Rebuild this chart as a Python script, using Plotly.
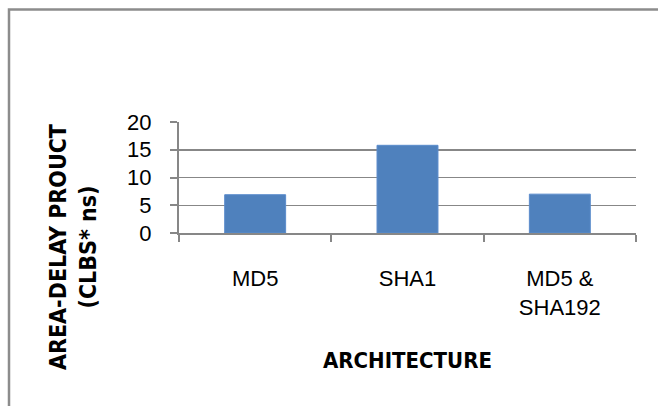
import plotly.graph_objects as go

categories = ["MD5", "SHA1", "MD5 &<br>SHA192"]
values = [6.9, 15.8, 7.0]
y_ticks = [0, 5, 10, 15, 20]

GRAY = "#878787"
BAR = "#4f81bd"
W, H = 658, 406
L, R, T, B = 179, 22, 122, 173
pw, ph = W - L - R, H - T - B

def px_x(x):
    return (x - L) / pw

def px_y(y):
    return (H - B - y) / ph

fig = go.Figure(go.Bar(x=categories, y=values, marker=dict(color=BAR, line=dict(color="#5b8ccc", width=1)), width=0.4))

fig.update_layout(
    width=W, height=H,
    margin=dict(l=L, r=R, t=T, b=B),
    paper_bgcolor="white", plot_bgcolor="white",
    showlegend=False,
    font=dict(family="Liberation Sans, Arial, sans-serif", color="black", size=22),
)
fig.update_xaxes(
    showline=True, linecolor=GRAY, linewidth=2,
    ticks="outside", tickson="boundaries", ticklen=7, tickcolor=GRAY, tickwidth=2,
    ticklabelstandoff=25, tickfont=dict(size=22),
    showgrid=False,
)
fig.update_yaxes(
    range=[0, 20], tickvals=y_ticks,
    showline=True, linecolor=GRAY, linewidth=2,
    ticks="outside", ticklen=7, tickcolor=GRAY, tickwidth=2,
    showgrid=True, gridcolor=GRAY, gridwidth=1.5,
    zeroline=False, ticklabelstandoff=14, tickfont=dict(size=22),
)

title_font = dict(family="DejaVu Sans Condensed, Liberation Sans Narrow, Arial Narrow, sans-serif", size=22, color="black")
fig.add_annotation(
    text="<b>ARCHITECTURE</b>", xref="paper", yref="paper",
    x=px_x(407), y=px_y(360), showarrow=False, font=title_font,
    xanchor="center", yanchor="middle",
)
fig.add_annotation(
    text="<b>AREA-DELAY PROUCT<br>(CLBS* ns)</b>", xref="paper", yref="paper",
    x=px_x(73), y=px_y(247), showarrow=False, font=dict(title_font, size=23), textangle=-90,
    xanchor="center", yanchor="middle",
)
# outer chart border (top and left visible)
fig.add_shape(
    type="path", xref="paper", yref="paper",
    path=f"M {px_x(9)} {px_y(H + 5)} L {px_x(9)} {px_y(9.5)} L {px_x(W + 5)} {px_y(9.5)}",
    line=dict(color="#8c8c8c", width=2.5),
)

fig.write_html(
    "out.html",
    config={"displayModeBar": False, "staticPlot": True},
    post_script="document.body.style.margin='0';document.body.style.overflow='hidden';",
)
